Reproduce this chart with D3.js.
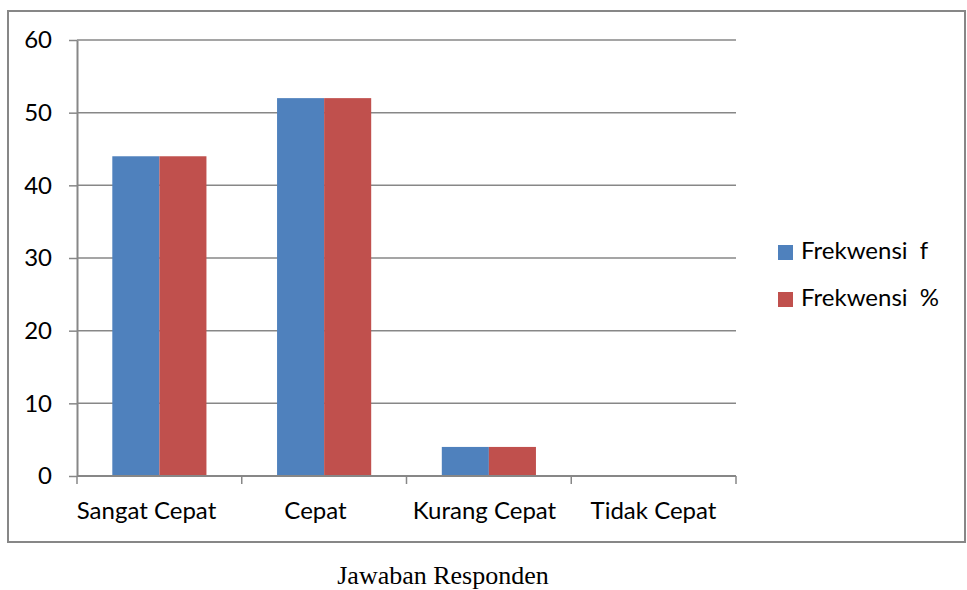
<!DOCTYPE html>
<html><head><meta charset="utf-8">
<script src="https://cdn.jsdelivr.net/npm/d3@7/dist/d3.min.js"></script>
<style>html,body{margin:0;padding:0;background:#fff;} text{white-space:pre;}</style>
</head><body>
<svg id="c" width="967" height="590"></svg>
<script>
const categories = ["Sangat Cepat", "Cepat", "Kurang Cepat", "Tidak Cepat"];
const seriesNames = ["Frekwensi  f", "Frekwensi  %"];
const seriesF = [44, 52, 4, 0];
const seriesPct = [44, 52, 4, 0];
const yTicks = [0, 10, 20, 30, 40, 50, 60];
const colors = ["#4f81bd", "#c0504d"];
const xTitle = "Jawaban Responden";

const svg = d3.select("#c");
const font = "Lato, 'Noto Sans', sans-serif";
const grid = "#878787";

svg.append("rect").attr("x", 8).attr("y", 11).attr("width", 957).attr("height", 531)
  .attr("fill", "none").attr("stroke", grid).attr("stroke-width", 2);

const L = 77, R = 736, T = 40, B = 476;
const x = d3.scaleBand().domain(categories).range([L, R]).paddingInner(0).paddingOuter(0);
const xLabel = d3.scaleBand().domain(categories).range([62, 738]).paddingInner(0).paddingOuter(0);
const y = d3.scaleLinear().domain([0, 60]).range([B, T]);

// gridlines
svg.append("g").selectAll("line").data(yTicks.filter(d => d > 0)).join("line")
  .attr("x1", L).attr("x2", R).attr("y1", d => y(d)).attr("y2", d => y(d))
  .attr("stroke", grid).attr("stroke-width", 1.5);

// bars
const data = [seriesF, seriesPct];
const barW = x.bandwidth() / 3.5;
data.forEach((vals, si) => {
  svg.append("g").selectAll("rect").data(categories).join("rect")
    .attr("x", (c) => x(c) + barW * 0.75 + si * barW)
    .attr("width", barW)
    .attr("y", (c, i) => y(vals[i]))
    .attr("height", (c, i) => B - y(vals[i]))
    .attr("fill", colors[si]);
});

// y axis
const yAxis = svg.append("g").attr("transform", `translate(${L},0)`)
  .call(d3.axisLeft(y).tickValues(yTicks).tickSize(8).tickPadding(17).tickSizeOuter(0));
yAxis.select(".domain").attr("stroke", grid).attr("stroke-width", 2);
yAxis.selectAll(".tick line").attr("stroke", grid).attr("stroke-width", 1.5);
yAxis.selectAll(".tick text").attr("font-family", font).attr("font-size", 24).attr("fill", "#000");

// x axis
const xAxis = svg.append("g").attr("transform", `translate(0,${B})`);
xAxis.append("line").attr("x1", L).attr("x2", R).attr("stroke", grid).attr("stroke-width", 2);
const edges = categories.map(c => x(c)).concat([R]);
xAxis.selectAll("line.tk").data(edges).join("line").attr("class", "tk")
  .attr("x1", d => d).attr("x2", d => d).attr("y1", 0).attr("y2", 8)
  .attr("stroke", grid).attr("stroke-width", 1.5);
xAxis.selectAll("text").data(categories).join("text")
  .attr("x", d => xLabel(d) + xLabel.bandwidth() / 2).attr("y", 43)
  .attr("text-anchor", "middle").attr("font-family", font).attr("font-size", 24)
  .attr("fill", "#000").text(d => d);

// legend
const lg = svg.append("g");
seriesNames.forEach((n, i) => {
  lg.append("rect").attr("x", 778).attr("y", 245 + i * 47).attr("width", 15).attr("height", 15).attr("fill", colors[i]);
  lg.append("text").attr("x", 801).attr("y", 259 + i * 47).attr("font-family", font).attr("font-size", 24)
    .attr("fill", "#000").text(n);
});

svg.append("text").attr("x", 443).attr("y", 584).attr("text-anchor", "middle")
  .attr("font-family", "'Liberation Serif', 'Times New Roman', serif").attr("font-size", 26)
  .attr("fill", "#000").text(xTitle);
</script>
</body></html>
